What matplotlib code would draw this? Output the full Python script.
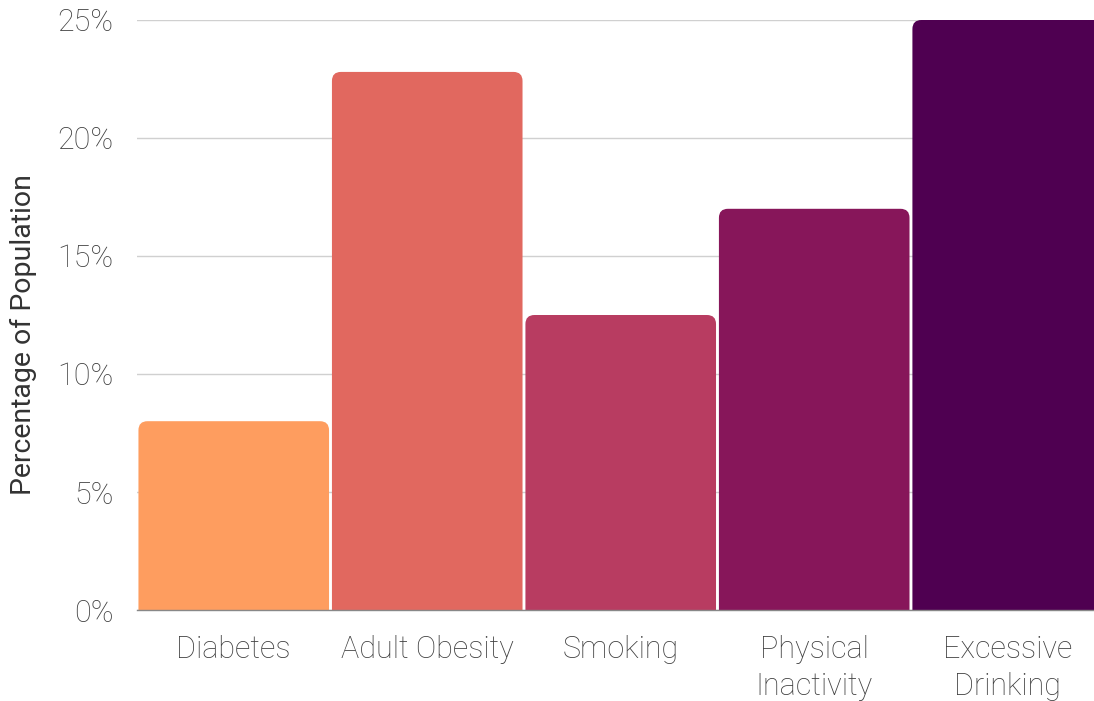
import matplotlib
matplotlib.use("Agg")
import matplotlib.pyplot as plt
from matplotlib.patches import FancyBboxPatch
from matplotlib.ticker import FuncFormatter

categories = ["Diabetes", "Adult Obesity", "Smoking", "Physical\nInactivity", "Excessive\nDrinking"]
values = [8.0, 22.8, 12.5, 17.0, 25.0]
colors = ["#FE9D5F", "#E1685F", "#B83C61", "#87165A", "#4F0051"]
y_ticks = [0, 5, 10, 15, 20, 25]

plt.rcParams["font.family"] = ["Roboto", "DejaVu Sans"]

W, H, DPI = 1094, 701, 100
fig = plt.figure(figsize=(W / DPI, H / DPI), dpi=DPI)
ax = fig.add_axes([137 / W, (H - 610) / H, 957 / W, 590 / H])

x = list(range(len(categories)))
x_right = 4.446
ax.set_xlim(-0.5, x_right)
ax.set_ylim(0, 25)

bars = ax.bar(x, values, width=0.985, color=colors, zorder=2)

# replace plain rectangles with top-rounded boxes (bottom rounding hidden below the axis)
bbox = ax.get_position()
px_per_x = bbox.width * W / (x_right + 0.5)
px_per_y = bbox.height * H / 25
radius_px = 9
for rect in bars:
    x0, w, h = rect.get_x(), rect.get_width(), rect.get_height()
    fc = rect.get_facecolor()
    rect.remove()
    r_x = radius_px / px_per_x
    aspect = (radius_px / px_per_y) / r_x
    patch = FancyBboxPatch((x0, -2), w, h + 2,
                           boxstyle=f"round,pad=0,rounding_size={r_x}",
                           mutation_aspect=aspect,
                           facecolor=fc, edgecolor="none", zorder=2)
    ax.add_patch(patch)

ax.set_yticks(y_ticks)
ax.yaxis.set_major_formatter(FuncFormatter(lambda v, _: f"{v:.0f}%"))
ax.grid(axis="y", color="#d0d0d0", linewidth=1, zorder=0)
ax.set_axisbelow(True)

ax.set_xticks(x)
ax.set_xticklabels(categories, linespacing=1.35)
ax.tick_params(axis="both", length=0, labelsize=22, labelcolor="#3f3f3f")
ax.tick_params(axis="y", pad=17)
ax.tick_params(axis="x", pad=18)
for lbl in ax.get_xticklabels() + ax.get_yticklabels():
    lbl.set_fontweight("light")

for side in ["top", "right", "left"]:
    ax.spines[side].set_visible(False)
ax.spines["bottom"].set_color("#888888")
ax.spines["bottom"].set_linewidth(1)
ax.spines["bottom"].set_zorder(3)

ax.set_ylabel("Percentage of Population", fontsize=20.5, color="#333333")
ax.yaxis.set_label_coords(-100 / 957, 0.466)

fig.savefig("out.png", dpi=DPI, facecolor="white")
